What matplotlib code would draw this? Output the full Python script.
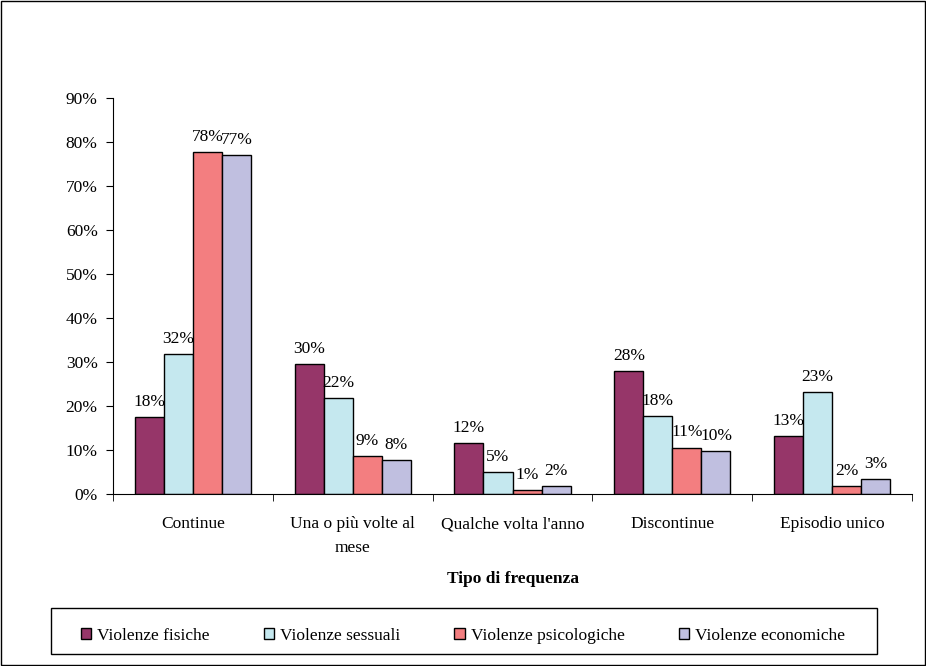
import numpy as np
import matplotlib
matplotlib.use('Agg')
import matplotlib.pyplot as plt
from matplotlib.patches import Rectangle

categories = ['Continue', 'Una o più volte al\nmese', "Qualche volta l'anno", 'Discontinue', 'Episodio unico']
series = ['Violenze fisiche', 'Violenze sessuali', 'Violenze psicologiche', 'Violenze economiche']
fisiche = [17.6, 29.6, 11.6, 27.9, 13.1]
sessuali = [31.9, 21.9, 5.0, 17.8, 23.2]
psicologiche = [77.7, 8.7, 0.9, 10.6, 1.9]
economiche = [77.0, 7.8, 1.9, 9.7, 3.4]
colors = ['#963669', '#C5E8EF', '#F37E80', '#C0BFE0']

plt.rcParams['font.family'] = ['Liberation Serif', 'DejaVu Serif']
plt.rcParams['font.size'] = 12.5

fig = plt.figure(figsize=(9.26, 6.66), dpi=100)
ax = fig.add_axes([0.122, 0.258, 0.863, 0.595])

x = np.arange(len(categories))
w = 1 / 5.5
data = [fisiche, sessuali, psicologiche, economiche]
for i, (vals, name, c) in enumerate(zip(data, series, colors)):
    pos = x - 1.5 * w + i * w
    ax.bar(pos, vals, width=w, color=c, edgecolor='black', linewidth=1.0, label=name)
    for p, v in zip(pos, vals):
        ax.text(p, v + 2.5, f'{round(v)}%', ha='center', va='baseline')

ax.set_xlim(-0.5, len(categories) - 0.5)
ax.set_ylim(0, 90)
ax.set_yticks(range(0, 91, 10))
ax.set_yticklabels([f'{t}%' for t in range(0, 91, 10)])
ax.set_xticks(x)
ax.set_xticklabels(categories, linespacing=1.6)
ax.set_xticks(np.arange(-0.5, len(categories), 1), minor=True)
ax.tick_params(axis='x', which='major', length=0, pad=16)
ax.tick_params(axis='x', which='minor', length=5, direction='out')
ax.tick_params(axis='y', length=5, direction='out', pad=6)
for s in ['top', 'right']:
    ax.spines[s].set_visible(False)
ax.set_xlabel('Tipo di frequenza', fontweight='bold', labelpad=11)

# legend box drawn separately, entries centred inside
fig.patches.append(Rectangle((50.5 / 926, 1 - 654 / 666), 826.5 / 926, 46 / 666,
                             transform=fig.transFigure, fill=False,
                             edgecolor='black', linewidth=1.0))
leg = fig.legend(loc='center', bbox_to_anchor=(463 / 926, 1 - 636 / 666),
                 ncol=4, frameon=False, handlelength=0.6, handleheight=0.6,
                 handletextpad=0.35, columnspacing=3.1, borderaxespad=0)

fig.patches.append(Rectangle((0.001, 0.001), 0.998, 0.997, transform=fig.transFigure,
                             fill=False, edgecolor='black', linewidth=1.0))

fig.savefig('out.png', dpi=100)
